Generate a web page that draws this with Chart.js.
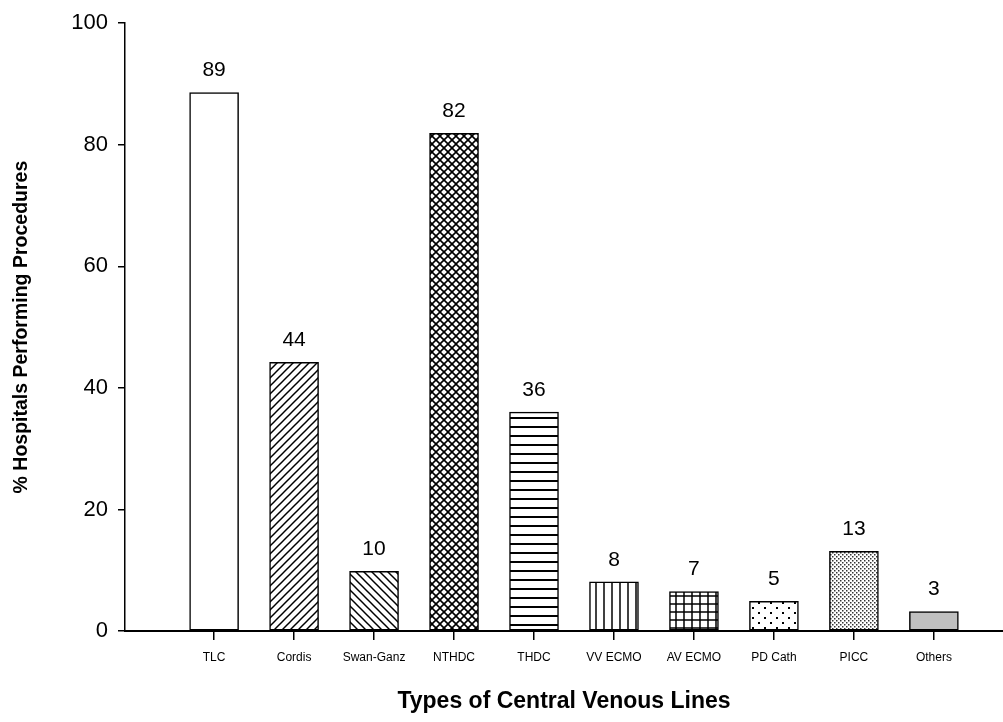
<!DOCTYPE html>
<html>
<head>
<meta charset="utf-8">
<script src="https://cdn.jsdelivr.net/npm/chart.js@4.4.1/dist/chart.umd.min.js"></script>
<style>
    html, body { margin: 0; padding: 0; background: #fff; }
    #wrap { width: 1003px; height: 722px; }
</style>
</head>
<body>
<div id="wrap"><canvas id="chart"></canvas></div>
<script>
// data
const categories = ['TLC', 'Cordis', 'Swan-Ganz', 'NTHDC', 'THDC', 'VV ECMO', 'AV ECMO', 'PD Cath', 'PICC', 'Others'];
const percentValues = [88.6, 44.2, 9.8, 81.9, 36.0, 8.1, 6.5, 4.9, 13.1, 3.2];
const valueLabels = ['89', '44', '10', '82', '36', '8', '7', '5', '13', '3'];
const yTicks = [0, 20, 40, 60, 80, 100];

const FONT = '"Liberation Sans", Arial, sans-serif';

// Build a repeating fill pattern from a small tile
function makePattern(w, h, draw) {
    const c = document.createElement('canvas');
    c.width = w;
    c.height = h;
    const g = c.getContext('2d');
    g.fillStyle = '#fff';
    g.fillRect(0, 0, w, h);
    g.strokeStyle = '#000';
    g.fillStyle = '#000';
    draw(g, w, h);
    return g.createPattern(c, 'repeat');
}

function line(g, x1, y1, x2, y2, lw) {
    g.lineWidth = lw;
    g.beginPath();
    g.moveTo(x1, y1);
    g.lineTo(x2, y2);
    g.stroke();
}

const fills = [
    '#ffffff',
    // forward diagonal
    makePattern(8, 8, (g) => {
        line(g, -2, 10, 10, -2, 1.5);
        line(g, -2, 2, 2, -2, 1.5);
        line(g, 6, 10, 10, 6, 1.5);
    }),
    // back diagonal
    makePattern(8, 8, (g) => {
        line(g, -2, -2, 10, 10, 1.5);
        line(g, 6, -2, 10, 2, 1.5);
        line(g, -2, 6, 2, 10, 1.5);
    }),
    // cross hatch
    makePattern(8, 8, (g) => {
        line(g, -2, -2, 10, 10, 1.6);
        line(g, -2, 10, 10, -2, 1.6);
        line(g, 6, -2, 10, 2, 1.6);
        line(g, -2, 6, 2, 10, 1.6);
        line(g, -2, 2, 2, -2, 1.6);
        line(g, 6, 10, 10, 6, 1.6);
    }),
    // horizontal lines
    makePattern(9, 9, (g) => {
        line(g, 0, 4, 9, 4, 2);
    }),
    // vertical lines
    makePattern(8, 8, (g) => {
        line(g, 4, 0, 4, 8, 1.5);
    }),
    // grid
    makePattern(8, 8, (g) => {
        line(g, 4, 0, 4, 8, 1.5);
        line(g, 0, 4, 8, 4, 1.5);
    }),
    // sparse dots
    makePattern(12, 10, (g) => {
        g.fillRect(2, 2, 2, 2);
        g.fillRect(8, 7, 2, 2);
    }),
    // dense dots
    makePattern(4, 4, (g) => {
        g.globalAlpha = 0.8;
        g.fillRect(0, 0, 1.5, 1.5);
        g.fillRect(2, 2, 1.5, 1.5);
    }),
    '#c0c0c0'
];

// Numbers printed above each bar
const barValueLabels = {
    id: 'barValueLabels',
    afterDatasetsDraw(chart) {
        const ctx = chart.ctx;
        const meta = chart.getDatasetMeta(0);
        ctx.save();
        ctx.font = '21px ' + FONT;
        ctx.fillStyle = '#000';
        ctx.textAlign = 'center';
        ctx.textBaseline = 'middle';
        meta.data.forEach((bar, i) => {
            ctx.fillText(valueLabels[i], bar.x, bar.y - 22);
        });
        ctx.restore();
    }
};

new Chart(document.getElementById('chart'), {
    type: 'bar',
    data: {
        datasets: [{
            data: categories.map((c, i) => ({ x: i, y: percentValues[i] })),
            backgroundColor: fills,
            borderColor: '#000',
            borderWidth: 1.5,
            borderSkipped: false,
            barThickness: 49
        }]
    },
    options: {
        responsive: true,
        maintainAspectRatio: false,
        animation: false,
        layout: { padding: { top: 19, right: 0, bottom: 0, left: 0 } },
        plugins: {
            legend: { display: false },
            tooltip: { enabled: false }
        },
        scales: {
            x: {
                type: 'linear',
                offset: false,
                min: -1.114,
                max: 9.864,
                afterBuildTicks(scale) {
                    scale.ticks = categories.map((c, i) => ({ value: i }));
                },
                afterFit(scale) { scale.height = 91; },
                grid: { offset: false, drawOnChartArea: false, drawTicks: true, tickLength: 9, color: '#000', lineWidth: 1.5 },
                border: { display: true, color: '#000', width: 2 },
                ticks: {
                    color: '#000',
                    font: { family: FONT, size: 12 },
                    padding: 10,
                    maxRotation: 0,
                    autoSkip: false,
                    callback: (v) => categories[v]
                },
                title: {
                    display: true,
                    text: 'Types of Central Venous Lines',
                    color: '#000',
                    font: { family: FONT, size: 23, weight: 'bold' },
                    padding: { top: 0, bottom: 7 }
                }
            },
            y: {
                min: 0,
                max: 100,
                afterBuildTicks(scale) {
                    scale.ticks = yTicks.map((v) => ({ value: v }));
                },
                afterFit(scale) { scale.width = 125; },
                grid: { drawOnChartArea: false, drawTicks: true, tickLength: 7, color: '#000', lineWidth: 1.5 },
                border: { display: true, color: '#000', width: 1.5 },
                ticks: {
                    color: '#000',
                    font: { family: FONT, size: 22 },
                    padding: 10
                },
                title: {
                    display: true,
                    text: '% Hospitals Performing Procedures',
                    color: '#000',
                    font: { family: FONT, size: 19.5, weight: 'bold' },
                    padding: { top: 10, bottom: 0 }
                }
            }
        }
    },
    plugins: [barValueLabels]
});
</script>
</body>
</html>
